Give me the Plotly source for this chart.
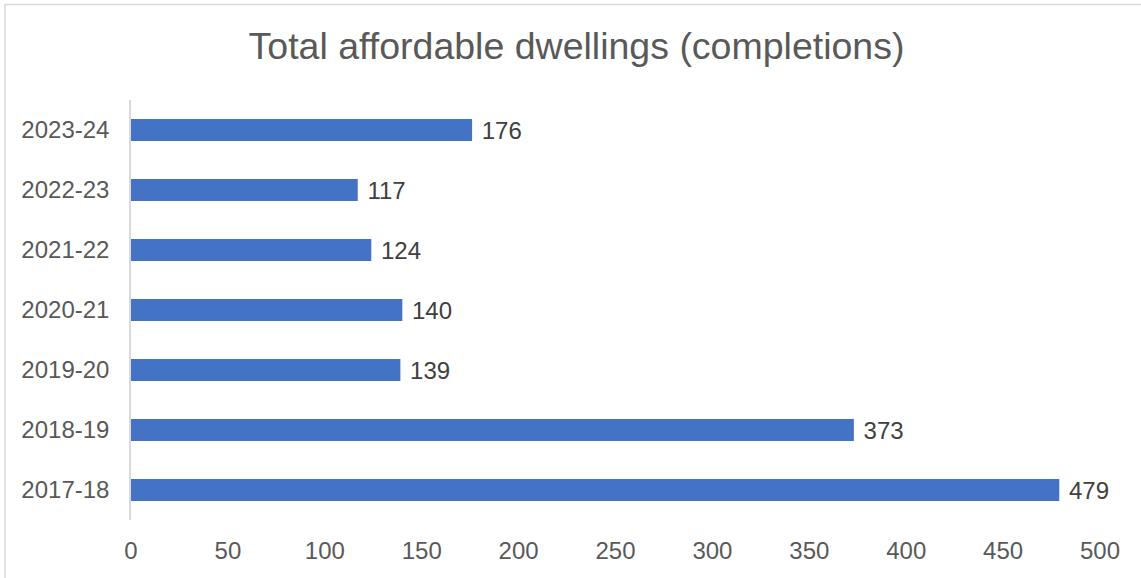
import plotly.graph_objects as go

categories = ["2017-18", "2018-19", "2019-20", "2020-21", "2021-22", "2022-23", "2023-24"]
values = [479, 373, 139, 140, 124, 117, 176]
x_ticks = [0, 50, 100, 150, 200, 250, 300, 350, 400, 450, 500]

W, H = 1141, 578
L, R, T, B = 131, 41, 100, 58
pw, ph = W - L - R, H - T - B

FONT = "Liberation Sans, Arial, sans-serif"
GRAY = "#595959"

fig = go.Figure(go.Bar(
    y=categories, x=values, orientation="h",
    marker=dict(color="#4472C4", line=dict(width=0)),
    texttemplate="\u00a0%{x}", textposition="outside", constraintext="none",
    textfont=dict(family=FONT, size=24, color="#404040"),
    cliponaxis=False, width=0.367,
))

fig.update_layout(
    width=W, height=H,
    margin=dict(l=L, r=R, t=T, b=B, autoexpand=False),
    paper_bgcolor="white", plot_bgcolor="white",
    showlegend=False,
    title=dict(text="Total affordable dwellings (completions)",
               font=dict(family=FONT, size=37.5, color=GRAY),
               xref="container", x=576.5 / W, xanchor="center",
               y=1 - 46 / H, yanchor="middle"),
    xaxis=dict(range=[0, 500], tickvals=x_ticks, showgrid=False, zeroline=False,
               showline=False, ticks="", ticklabelstandoff=14,
               tickfont=dict(family=FONT, size=24, color=GRAY)),
    yaxis=dict(categoryorder="array", categoryarray=categories,
               showgrid=False, zeroline=False, showline=True,
               linecolor="#d9d9d9", linewidth=1.5, ticks="", ticklabelstandoff=15,
               tickfont=dict(family=FONT, size=24, color=GRAY)),
    shapes=[dict(type="rect", xref="paper", yref="paper",
                 x0=(5 - L) / pw, x1=(W + 5 - L) / pw,
                 y0=(H - B - (H + 5)) / ph, y1=(H - B - 4.5) / ph,
                 line=dict(color="#d9d9d9", width=1.5), fillcolor="rgba(0,0,0,0)",
                 layer="below")],
)

fig.write_html("out.html")
